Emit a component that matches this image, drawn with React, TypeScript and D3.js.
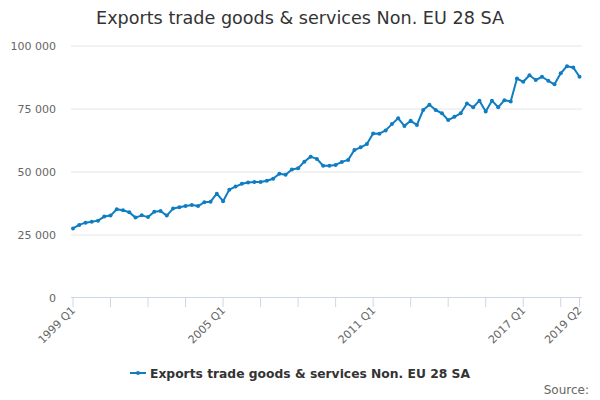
import React from 'react';
import * as d3 from 'd3';

// Quarterly exports, £ million
const startYear = 1999;
const values = [
  27600, 29000, 29900, 30300, 30700, 32300, 32700, 35200,
  34800, 34000, 31900, 32800, 32100, 34200, 34500, 32700,
  35500, 36000, 36500, 36900, 36500, 38000, 38200, 41400,
  38400, 43000, 44200, 45300, 45800, 46000, 46000, 46500,
  47300, 49300, 48900, 51000, 51500, 54100, 56100, 55200,
  52500, 52500, 52800, 54000, 54800, 58700, 59800, 61100,
  65300, 65200, 66500, 69000, 71300, 68300, 70300, 68700,
  74600, 76700, 74600, 73300, 70600, 71900, 73300, 77200,
  75700, 78300, 74000, 78300, 75700, 78500, 78000, 87100,
  85800, 88400, 86500, 87800, 86200, 84800, 89200, 92000,
  91500, 87800,
];
const quarters = values.map((_, i) => `${startYear + Math.floor(i / 4)} Q${(i % 4) + 1}`);
const yTicks = [0, 25000, 50000, 75000, 100000];
const xTickLabels = ['1999 Q1', '2005 Q1', '2011 Q1', '2017 Q1', '2019 Q2'];
const xTickMarks = quarters.filter((q, i) => i % 6 === 0 || i === quarters.length - 1);

const title = 'Exports trade goods & services Non. EU 28 SA';
const seriesName = 'Exports trade goods & services Non. EU 28 SA';
const lineColor = '#0f7dc2';
const font = 'DejaVu Sans, sans-serif';

const App: React.FC = () => {
  const width = 600;
  const height = 400;
  const plot = { left: 71, right: 582, top: 46, bottom: 298 };

  const x = d3.scalePoint<string>().domain(quarters).range([73, 579.5]);
  const y = d3.scaleLinear().domain([0, 100000]).range([plot.bottom, plot.top]);

  const line = d3.line<number>()
    .x((_, i) => x(quarters[i]) as number)
    .y(d => y(d));

  const fmt = (v: number) => d3.format(',')(v).replace(/,/g, ' ');

  return (
    <svg width={width} height={height}
      style={{ position: 'absolute', left: 0, top: 0, background: '#fff', fontFamily: font }}>
      <text x={300} y={24} textAnchor="middle" fontSize={17.6} fill="#333">{title}</text>

      {/* gridlines and y labels */}
      {yTicks.map(t => (
        <g key={t}>
          {t > 0 && (
            <line x1={plot.left} x2={plot.right} y1={y(t)} y2={y(t)} stroke="#e6e6e6" />
          )}
          <text x={56} y={y(t)} dy="0.35em" textAnchor="end" fontSize={11} fill="#666">{fmt(t)}</text>
        </g>
      ))}

      {/* x axis */}
      <line x1={plot.left} x2={plot.right} y1={plot.bottom - 0.5} y2={plot.bottom - 0.5} stroke="#ccd6eb" />
      {xTickMarks.map(q => (
        <line key={q} x1={x(q)} x2={x(q)} y1={plot.bottom} y2={plot.bottom + 9} stroke="#ccd6eb" />
      ))}
      {xTickLabels.map(q => (
        <text key={q} transform={`translate(${(x(q) as number) + 3},${plot.bottom + 13}) rotate(-45)`}
          textAnchor="end" fontSize={11} fill="#666">{q}</text>
      ))}

      {/* series */}
      <path d={line(values) || ''} fill="none" stroke={lineColor} strokeWidth={2} strokeLinejoin="round" />
      {values.map((v, i) => (
        <circle key={i} cx={x(quarters[i])} cy={y(v)} r={2} fill={lineColor} />
      ))}

      {/* legend */}
      <line x1={130} x2={146} y1={373} y2={373} stroke={lineColor} strokeWidth={2} />
      <circle cx={138} cy={373} r={2} fill={lineColor} />
      <text x={150} y={377.5} fontSize={12.3} fontWeight="bold" fill="#333">{seriesName}</text>

      <text x={589} y={394} textAnchor="end" fontSize={12} fill="#666">Source:</text>
    </svg>
  );
};

export default App;
